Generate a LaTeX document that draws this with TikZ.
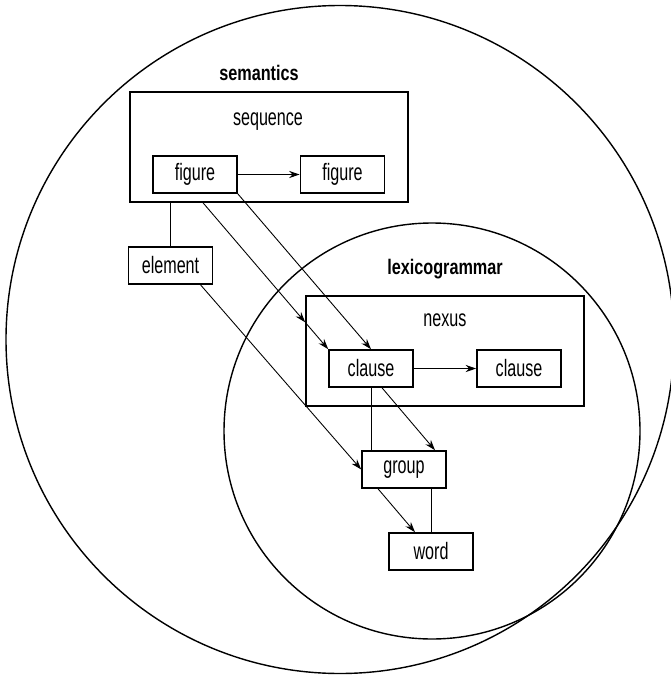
\documentclass[tikz,border=0pt]{standalone}
\usepackage{fontspec}
\setmainfont{Liberation Sans}[FakeStretch=0.68]
\newfontfamily\headfont{Liberation Sans}[FakeStretch=0.77]
\usetikzlibrary{arrows.meta,calc}

\begin{document}
\begin{tikzpicture}[x=0.02cm, y=-0.02cm, >={Stealth[length=6pt,width=4pt]},
  ring/.style={line width=0.8pt},
  link/.style={line width=0.5pt},
  rankbox/.style={draw, line width=0.9pt, minimum width=1.68cm, minimum height=0.74cm, inner sep=0pt, font=\fontsize{13.5}{15}\selectfont},
  framebox/.style={draw, line width=0.9pt, minimum width=5.56cm, minimum height=2.2cm, inner sep=0pt},
  plainlabel/.style={inner sep=0pt, font=\fontsize{13.5}{15}\selectfont},
  headlabel/.style={inner sep=0pt, font=\headfont\bfseries\fontsize{12}{14}\selectfont}]
 \useasboundingbox (0,0) rectangle (671,679);

 % the two strata
 \draw[ring] (340,339.5) circle[radius=334];
 \draw[ring] (432,431) circle[radius=208];

 % semantics
 \node[headlabel] (semlabel) at (259,73) {semantics};
 \node[framebox] (sequence) at (269,147) {};
 \node[plainlabel] (seqlabel) at (268,122) {sequence};
 \node[rankbox] (figA) at (195,174.5) {figure};
 \node[rankbox] (figB) at (342.5,174.5) {figure};
 \node[rankbox] (element) at (170.5,265.5) {element};

 % lexicogrammar
 \node[headlabel] (lexlabel) at (445,269) {lexicogrammar};
 \node[framebox] (nexus) at (445,351) {};
 \node[plainlabel] (nexlabel) at (445,320) {nexus};
 \node[rankbox] (clauseA) at (371,368.5) {clause};
 \node[rankbox] (clauseB) at (519,368.5) {clause};
 \node[rankbox] (group) at (404,469.5) {group};
 \node[rankbox] (word) at (431,551.5) {word};

 % connectors
 \draw[link,->] (figA) -- (figB);
 \draw[link,->] (clauseA) -- (clauseB);
 \draw[link] (element.north) -- (element.north |- sequence.south);
 \coordinate (seqfoot) at ($(sequence.south)+(-66,0)$);
 \coordinate (nexusin) at (intersection of seqfoot--clauseA.north west and nexus.north west--nexus.south west);
 \draw[link,->] (seqfoot) -- (nexusin);
 \draw[link,->] (nexusin) -- (clauseA.north west);
 \draw[link,->] (figA.south east) -- (clauseA.north);
 \draw[link,->] ($(element.south)+(30,0)$) -- (group.west);
 \draw[link] (clauseA.south) -- (clauseA.south |- group.north);
 \draw[link,->] ($(clauseA.south)+(11,0)$) -- ($(group.north)+(31,0)$);
 \draw[link,->] ($(group.south)+(-26,0)$) -- ($(word.north)+(-16,0)$);
 \draw[link] (word.north) -- (word.north |- group.south);
\end{tikzpicture}
\end{document}
